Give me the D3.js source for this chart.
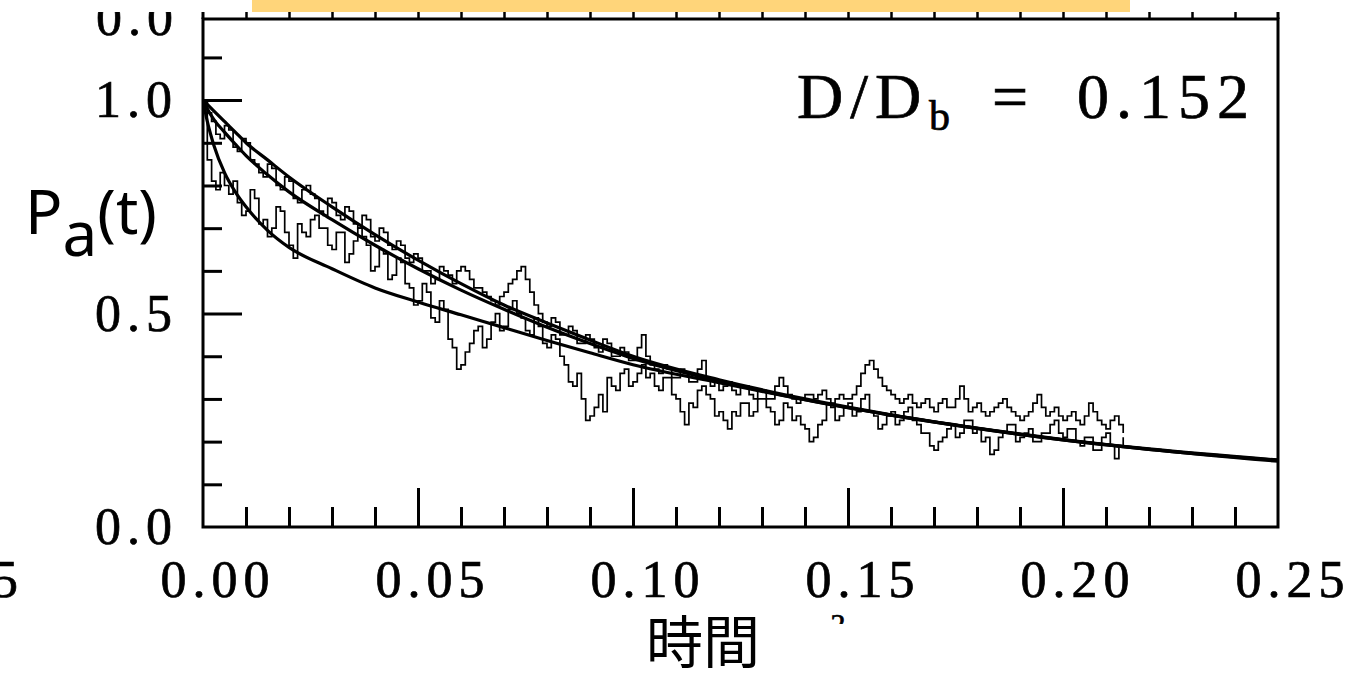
<!DOCTYPE html>
<html>
<head>
<meta charset="utf-8">
<script src="https://cdn.jsdelivr.net/npm/d3@7"></script>
<style>
  html, body { margin: 0; padding: 0; background: #fff; }
  svg { display: block; }
  .serif { font-family: "Liberation Serif", "DejaVu Serif", serif; fill: #000; stroke: #000; stroke-width: 0.7px; }
</style>
</head>
<body>
<div id="chart"></div>
<script>
// Survival probability P_a(t) vs time, D/D_b = 0.152

// smooth theory curves
const fitTimes  = [0, 0.001, 0.0025, 0.005, 0.0075, 0.01, 0.015, 0.02, 0.03, 0.04, 0.05, 0.06, 0.07, 0.08, 0.09, 0.10, 0.12, 0.14, 0.16, 0.18, 0.20, 0.22, 0.25];
const upperFit  = [1.0, 0.99, 0.975, 0.95, 0.925, 0.90, 0.86, 0.82, 0.75, 0.685, 0.625, 0.57, 0.52, 0.478, 0.438, 0.40, 0.345, 0.30, 0.263, 0.232, 0.205, 0.183, 0.157];
const middleFit = [1.0, 0.98, 0.955, 0.925, 0.897, 0.87, 0.825, 0.785, 0.72, 0.66, 0.605, 0.555, 0.51, 0.468, 0.43, 0.395, 0.342, 0.298, 0.262, 0.231, 0.204, 0.182, 0.156];
const lowerFit  = [1.0, 0.95, 0.895, 0.83, 0.785, 0.75, 0.695, 0.655, 0.605, 0.56, 0.527, 0.497, 0.467, 0.437, 0.408, 0.38, 0.338, 0.298, 0.262, 0.231, 0.204, 0.182, 0.154];

// simulated traces, sampled every 0.001 from t = 0
const traceStep = 0.001;
const traceA = [
  1.00, 0.86, 0.81, 0.79, 0.83, 0.80, 0.78, 0.81, 0.76, 0.73, 0.74, 0.79, 0.77, 0.71, 0.72, 0.68, 0.70, 0.75, 0.74, 0.69,
  0.66, 0.63, 0.71, 0.69, 0.68, 0.72, 0.73, 0.70, 0.70, 0.66, 0.65, 0.69, 0.69, 0.62, 0.64, 0.67, 0.70, 0.68, 0.66, 0.60,
  0.61, 0.65, 0.64, 0.58, 0.59, 0.63, 0.62, 0.57, 0.56, 0.52, 0.53, 0.57, 0.55, 0.49, 0.48, 0.53, 0.51, 0.44, 0.42, 0.37,
  0.38, 0.41, 0.43, 0.46, 0.47, 0.42, 0.44, 0.48, 0.50, 0.46, 0.47, 0.51, 0.53, 0.50, 0.49, 0.46, 0.45, 0.49, 0.47, 0.43,
  0.42, 0.45, 0.44, 0.40, 0.38, 0.34, 0.33, 0.36, 0.30, 0.25, 0.26, 0.28, 0.31, 0.27, 0.35, 0.33, 0.32, 0.36, 0.37, 0.33,
  0.34, 0.36, 0.38, 0.35, 0.36, 0.33, 0.32, 0.35, 0.35, 0.31, 0.30, 0.27, 0.24, 0.29, 0.28, 0.32, 0.33, 0.31, 0.30, 0.26,
  0.27, 0.25, 0.23, 0.27, 0.26, 0.29, 0.29, 0.26, 0.27, 0.30, 0.30, 0.28, 0.27, 0.24, 0.25, 0.29, 0.28, 0.25, 0.26, 0.24,
  0.23, 0.20, 0.21, 0.24, 0.25, 0.29, 0.28, 0.25, 0.26, 0.28, 0.29, 0.26, 0.27, 0.30, 0.31, 0.27, 0.26, 0.23, 0.24, 0.26,
  0.27, 0.24, 0.25, 0.27, 0.28, 0.25, 0.24, 0.22, 0.22, 0.19, 0.18, 0.20, 0.21, 0.23, 0.24, 0.21, 0.22, 0.25, 0.25, 0.22,
  0.23, 0.20, 0.21, 0.17, 0.18, 0.21, 0.22, 0.24, 0.24, 0.20, 0.21, 0.22, 0.23, 0.20, 0.20, 0.22, 0.22, 0.24, 0.25, 0.22,
  0.21, 0.23, 0.23, 0.20, 0.19, 0.21, 0.21, 0.18, 0.18, 0.21, 0.22, 0.19, 0.16, 0.19, 0.21];
const traceB = [
  1.00, 0.97, 0.95, 0.92, 0.91, 0.94, 0.93, 0.89, 0.88, 0.91, 0.90, 0.86, 0.85, 0.83, 0.82, 0.85, 0.84, 0.80, 0.79, 0.82,
  0.81, 0.77, 0.76, 0.79, 0.80, 0.78, 0.77, 0.74, 0.73, 0.77, 0.76, 0.73, 0.72, 0.75, 0.74, 0.71, 0.70, 0.73, 0.72, 0.68,
  0.67, 0.70, 0.69, 0.66, 0.65, 0.67, 0.66, 0.63, 0.62, 0.64, 0.63, 0.60, 0.60, 0.57, 0.58, 0.61, 0.60, 0.59, 0.57, 0.60,
  0.61, 0.60, 0.58, 0.56, 0.56, 0.55, 0.54, 0.53, 0.52, 0.54, 0.55, 0.57, 0.58, 0.60, 0.61, 0.58, 0.55, 0.52, 0.50, 0.48,
  0.47, 0.49, 0.48, 0.45, 0.45, 0.47, 0.46, 0.43, 0.43, 0.45, 0.44, 0.42, 0.41, 0.44, 0.43, 0.40, 0.40, 0.42, 0.41, 0.39,
  0.39, 0.42, 0.45, 0.40, 0.38, 0.37, 0.36, 0.38, 0.37, 0.35, 0.35, 0.37, 0.36, 0.34, 0.34, 0.37, 0.39, 0.35, 0.33, 0.34,
  0.32, 0.33, 0.34, 0.32, 0.31, 0.33, 0.33, 0.31, 0.30, 0.32, 0.32, 0.30, 0.30, 0.33, 0.35, 0.33, 0.31, 0.30, 0.29, 0.30,
  0.31, 0.31, 0.30, 0.31, 0.32, 0.30, 0.29, 0.30, 0.31, 0.30, 0.30, 0.31, 0.33, 0.36, 0.38, 0.39, 0.37, 0.35, 0.33, 0.32,
  0.31, 0.30, 0.29, 0.30, 0.31, 0.29, 0.28, 0.29, 0.30, 0.28, 0.27, 0.29, 0.30, 0.28, 0.28, 0.30, 0.33, 0.30, 0.27, 0.28,
  0.29, 0.27, 0.26, 0.27, 0.28, 0.29, 0.30, 0.28, 0.27, 0.26, 0.25, 0.26, 0.27, 0.29, 0.31, 0.28, 0.26, 0.27, 0.28, 0.26,
  0.25, 0.26, 0.27, 0.25, 0.24, 0.26, 0.29, 0.27, 0.25, 0.24, 0.23, 0.25, 0.26, 0.24, 0.22];

// axis ticks
const xMajorTicks = [0.05, 0.10, 0.15, 0.20];
const xMinorTicks = [0.01, 0.02, 0.03, 0.04, 0.06, 0.07, 0.08, 0.09, 0.11, 0.12, 0.13, 0.14, 0.16, 0.17, 0.18, 0.19, 0.21, 0.22, 0.23, 0.24];
const xTopTicks = [0.01, 0.02, 0.03, 0.04, 0.05, 0.06, 0.07, 0.08, 0.09, 0.10, 0.11, 0.12, 0.13, 0.14, 0.15, 0.16, 0.17, 0.18, 0.19, 0.20, 0.21, 0.22, 0.23, 0.24];
const xLabelValues = [0, 0.05, 0.10, 0.15, 0.20, 0.25];
const xLabels = ['0.00', '0.05', '0.10', '0.15', '0.20', '0.25'];
const yMajorTicks = [0.5, 1.0];
const yMinorTicks = [0.1, 0.2, 0.3, 0.4, 0.6, 0.7, 0.8, 0.9, 1.1];
const yLabelValues = [0, 0.5, 1.0];
const yLabels = ['0.0', '0.5', '1.0'];

const width = 1354, height = 678;
const frame = { left: 203, right: 1278, top: 19, bottom: 527 };

const svg = d3.select('#chart').append('svg')
    .attr('width', width)
    .attr('height', height)
    .style('background', '#fff');

const x = d3.scaleLinear().domain([0, 0.25]).range([frame.left, frame.right]);
const y = d3.scaleLinear().domain([0, 1.19]).range([frame.bottom, frame.top]);

svg.append('clipPath').attr('id', 'plot-clip')
  .append('rect')
    .attr('x', frame.left).attr('y', frame.top)
    .attr('width', frame.right - frame.left).attr('height', frame.bottom - frame.top);

// the scan is cut just above the frame
svg.append('clipPath').attr('id', 'page-clip')
  .append('rect')
    .attr('x', 0).attr('y', 12)
    .attr('width', width).attr('height', height - 12);

const plot = svg.append('g').attr('clip-path', 'url(#plot-clip)');

// noisy traces
const traceLine = d3.line()
    .x((d, i) => x(i * traceStep))
    .y(d => y(d))
    .curve(d3.curveStepAfter);

[traceB, traceA].forEach(tr => {
    plot.append('path')
        .datum(tr)
        .attr('d', traceLine)
        .attr('fill', 'none')
        .attr('stroke', '#000')
        .attr('stroke-width', 1.7);
});

// smooth curves
const fitLine = d3.line()
    .x((d, i) => x(fitTimes[i]))
    .y(d => y(d))
    .curve(d3.curveMonotoneX);

[upperFit, middleFit, lowerFit].forEach(f => {
    plot.append('path')
        .datum(f)
        .attr('d', fitLine)
        .attr('fill', 'none')
        .attr('stroke', '#000')
        .attr('stroke-width', 3.2);
});

// ticks, drawn with d3 axes pointing into the frame
const page = svg.append('g').attr('clip-path', 'url(#page-clip)');

function tickAxis(gen, transform) {
    const g = page.append('g').attr('transform', transform).call(gen);
    g.select('.domain').remove();
    g.selectAll('text').remove();
    g.selectAll('line').attr('stroke', '#000').attr('stroke-width', 3);
    return g;
}

tickAxis(d3.axisBottom(x).tickValues(xMinorTicks).tickSize(-20), `translate(0,${frame.bottom})`);
tickAxis(d3.axisBottom(x).tickValues(xMajorTicks).tickSize(-39), `translate(0,${frame.bottom})`);
tickAxis(d3.axisLeft(y).tickValues(yMinorTicks).tickSize(-19), `translate(${frame.left},0)`);
tickAxis(d3.axisLeft(y).tickValues(yMajorTicks).tickSize(-39), `translate(${frame.left},0)`);
tickAxis(d3.axisTop(x).tickValues(xTopTicks).tickSize(8), `translate(0,${frame.top})`)
    .selectAll('line').attr('stroke-width', 2.5);

// frame
page.append('rect')
    .attr('x', frame.left).attr('y', frame.top)
    .attr('width', frame.right - frame.left).attr('height', frame.bottom - frame.top)
    .attr('fill', 'none')
    .attr('stroke', '#000')
    .attr('stroke-width', 3);
page.append('line')
    .attr('x1', frame.left).attr('x2', frame.left)
    .attr('y1', 0).attr('y2', frame.top)
    .attr('stroke', '#000').attr('stroke-width', 3);
page.append('line')
    .attr('x1', frame.right).attr('x2', frame.right)
    .attr('y1', 0).attr('y2', frame.top)
    .attr('stroke', '#000').attr('stroke-width', 3);

// highlight strip at the top edge
svg.append('rect')
    .attr('x', 252).attr('y', 0)
    .attr('width', 878).attr('height', 12)
    .attr('fill', '#FFD57A');

// tick labels
svg.append('g').selectAll('text')
    .data(xLabelValues)
    .join('text')
    .attr('class', 'serif')
    .attr('x', d => x(d) + 15)
    .attr('y', 597)
    .attr('text-anchor', 'middle')
    .style('font-size', '52px')
    .style('letter-spacing', '6px')
    .text((d, i) => xLabels[i]);

svg.append('g').selectAll('text')
    .data(yLabelValues)
    .join('text')
    .attr('class', 'serif')
    .attr('x', 178)
    .attr('y', d => y(d) + 17)
    .attr('text-anchor', 'end')
    .style('font-size', '52px')
    .style('letter-spacing', '6px')
    .text((d, i) => yLabels[i]);

// pieces of neighbouring panels that show at the edges
page.append('text')
    .attr('class', 'serif')
    .attr('x', 179).attr('y', 35)
    .attr('text-anchor', 'end')
    .style('font-size', '52px')
    .style('letter-spacing', '6px')
    .text('0.0');
svg.append('text')
    .attr('class', 'serif')
    .attr('x', 24).attr('y', 597)
    .attr('text-anchor', 'end')
    .style('font-size', '52px')
    .style('letter-spacing', '6px')
    .text('0.25');
svg.append('clipPath').attr('id', 'two-clip')
  .append('rect').attr('x', 820).attr('y', 600).attr('width', 40).attr('height', 24);
svg.append('text')
    .attr('class', 'serif')
    .attr('clip-path', 'url(#two-clip)')
    .attr('x', 838).attr('y', 634)
    .attr('text-anchor', 'middle')
    .style('font-size', '30px')
    .text('2');

// annotation D/D_b = 0.152
const ann = svg.append('g').attr('class', 'serif');
ann.append('text')
    .attr('x', 797).attr('y', 118)
    .style('font-size', '64px')
    .style('letter-spacing', '7px')
    .text('D/D');
ann.append('text')
    .attr('x', 929).attr('y', 130)
    .style('font-size', '42px')
    .text('b');
ann.append('text')
    .attr('x', 1010).attr('y', 118)
    .attr('text-anchor', 'middle')
    .style('font-size', '64px')
    .text('=');
ann.append('text')
    .attr('x', 1256).attr('y', 118)
    .attr('text-anchor', 'end')
    .style('font-size', '64px')
    .style('letter-spacing', '7px')
    .text('0.152');

// axis titles
const yTitle = svg.append('text')
    .attr('x', 25).attr('y', 234)
    .style('font-family', '"Noto Sans", sans-serif')
    .style('font-size', '62px')
    .attr('fill', '#000');
yTitle.append('tspan').text('P');
yTitle.append('tspan').attr('dy', 22).text('a');
yTitle.append('tspan').attr('dy', -22).text('(t)');

svg.append('text')
    .attr('x', 703).attr('y', 663)
    .attr('text-anchor', 'middle')
    .style('font-family', '"Noto Sans CJK JP", sans-serif')
    .style('font-size', '57px')
    .attr('fill', '#000')
    .text('時間');
</script>
</body>
</html>
